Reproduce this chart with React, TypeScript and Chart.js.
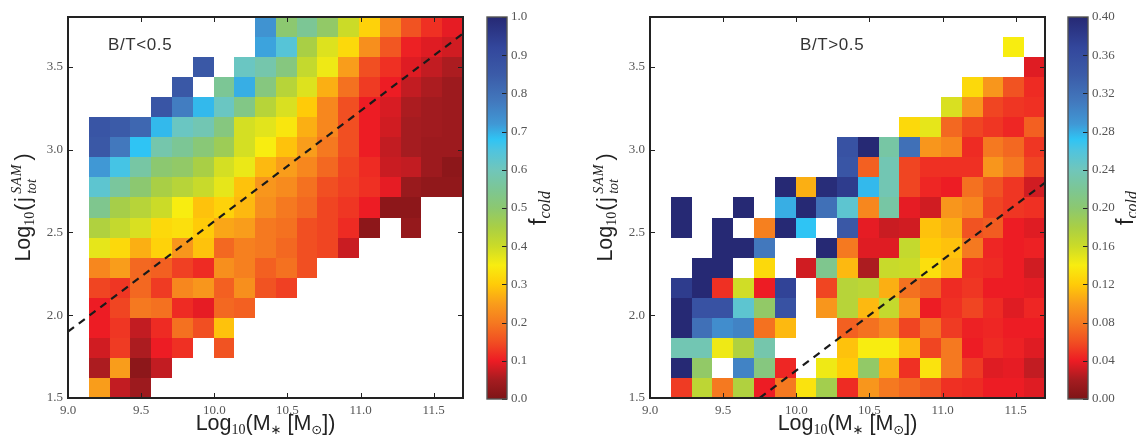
import React, { useEffect, useRef } from "react";
import { Chart, registerables } from "chart.js";

Chart.register(...registerables);

const _ = null;

// Rows run from the top of the plot (highest j bin) to the bottom. Columns start at the second mass bin.
const coldFractionLowBT = [
  [_, _, _, _, _, _, _, _, 0.73, 0.5, 0.55, 0.49, 0.4, 0.31, 0.22, 0.155, 0.12, 0.095],
  [_, _, _, _, _, _, _, _, 0.71, 0.64, 0.45, 0.38, 0.32, 0.23, 0.16, 0.105, 0.09, 0.08],
  [_, _, _, _, _, 0.86, _, 0.61, 0.58, 0.52, 0.41, 0.36, 0.25, 0.15, 0.12, 0.09, 0.07, 0.055],
  [_, _, _, _, 0.86, _, 0.55, 0.7, 0.52, 0.43, 0.38, 0.27, 0.19, 0.13, 0.1, 0.07, 0.055, 0.04],
  [_, _, _, 0.87, 0.77, 0.69, 0.61, 0.53, 0.43, 0.385, 0.3, 0.22, 0.15, 0.1, 0.085, 0.055, 0.045, 0.04],
  [0.87, 0.85, 0.82, 0.69, 0.61, 0.59, 0.52, 0.39, 0.375, 0.34, 0.27, 0.22, 0.15, 0.1, 0.08, 0.05, 0.045, 0.04],
  [0.86, 0.78, 0.68, 0.58, 0.55, 0.51, 0.47, 0.39, 0.35, 0.29, 0.25, 0.2, 0.15, 0.1, 0.07, 0.05, 0.04, 0.04],
  [0.72, 0.66, 0.57, 0.5, 0.49, 0.45, 0.39, 0.365, 0.28, 0.25, 0.22, 0.18, 0.14, 0.115, 0.075, 0.07, 0.04, 0.02],
  [0.63, 0.56, 0.5, 0.45, 0.43, 0.405, 0.37, 0.29, 0.24, 0.225, 0.19, 0.15, 0.135, 0.12, 0.095, 0.035, 0.025, 0.025],
  [0.54, 0.455, 0.43, 0.4, 0.35, 0.29, 0.31, 0.28, 0.23, 0.2, 0.18, 0.14, 0.125, 0.1, 0.02, 0.02, _, _],
  [0.44, 0.41, 0.385, 0.32, 0.33, 0.3, 0.26, 0.25, 0.2, 0.19, 0.15, 0.14, 0.115, 0.02, _, 0.03, _, _],
  [0.37, 0.32, 0.27, 0.31, 0.24, 0.29, 0.18, 0.21, 0.2, 0.18, 0.15, 0.14, 0.075, _, _, _, _, _],
  [0.22, 0.25, 0.18, 0.17, 0.135, 0.115, 0.23, 0.21, 0.17, 0.19, 0.15, _, _, _, _, _, _, _],
  [0.14, 0.125, 0.18, 0.13, 0.22, 0.24, 0.17, 0.23, 0.155, 0.135, _, _, _, _, _, _, _, _],
  [0.1, 0.14, 0.2, 0.19, 0.115, 0.095, 0.18, 0.17, _, _, _, _, _, _, _, _, _, _],
  [0.1, 0.125, 0.07, 0.115, 0.19, 0.15, 0.29, _, _, _, _, _, _, _, _, _, _, _],
  [0.08, 0.13, 0.055, 0.1, 0.12, _, 0.155, _, _, _, _, _, _, _, _, _, _, _],
  [0.055, 0.25, 0.02, 0.07, _, _, _, _, _, _, _, _, _, _, _, _, _, _],
  [0.25, 0.07, 0.04, _, _, _, _, _, _, _, _, _, _, _, _, _, _, _],
];

const coldFractionHighBT = [
  [_, _, _, _, _, _, _, _, _, _, _, _, _, _, _, _, _, _],
  [_, _, _, _, _, _, _, _, _, _, _, _, _, _, _, _, 0.14, _],
  [_, _, _, _, _, _, _, _, _, _, _, _, _, _, _, _, _, 0.036],
  [_, _, _, _, _, _, _, _, _, _, _, _, _, _, 0.128, 0.096, 0.062, 0.046],
  [_, _, _, _, _, _, _, _, _, _, _, _, _, 0.154, 0.096, 0.056, 0.05, 0.048],
  [_, _, _, _, _, _, _, _, _, _, _, 0.128, 0.148, 0.072, 0.056, 0.05, 0.044, 0.068],
  [_, _, _, _, _, _, _, _, 0.352, 0.4, 0.228, 0.32, 0.096, 0.088, 0.046, 0.08, 0.072, 0.05],
  [_, _, _, _, _, _, _, _, 0.348, 0.068, 0.236, 0.056, 0.048, 0.048, 0.048, 0.096, 0.08, 0.056],
  [_, _, _, _, _, 0.4, 0.108, 0.396, 0.38, 0.276, 0.236, 0.056, 0.044, 0.04, 0.076, 0.062, 0.05, 0.032],
  [0.4, _, _, 0.4, _, 0.28, 0.4, 0.32, 0.252, 0.088, 0.228, 0.038, 0.032, 0.096, 0.088, 0.056, 0.05, 0.048],
  [0.4, _, 0.4, _, 0.084, 0.4, 0.272, _, 0.344, 0.038, 0.03, 0.032, 0.116, 0.108, 0.062, 0.066, 0.04, 0.036],
  [_, _, 0.4, 0.4, 0.312, _, _, 0.4, 0.08, 0.036, 0.036, 0.164, 0.12, 0.116, 0.08, 0.044, 0.04, 0.042],
  [_, 0.4, 0.4, _, 0.128, _, 0.032, 0.216, 0.112, 0.022, 0.162, 0.16, 0.132, 0.112, 0.048, 0.046, 0.04, 0.032],
  [0.38, 0.4, 0.048, 0.158, 0.04, 0.372, _, 0.056, 0.172, 0.168, 0.108, 0.076, 0.066, 0.046, 0.05, 0.04, 0.04, 0.038],
  [0.4, 0.352, 0.352, 0.252, 0.196, 0.352, _, 0.096, 0.172, 0.112, 0.164, 0.096, 0.04, 0.048, 0.056, 0.046, 0.036, 0.044],
  [0.4, 0.32, 0.296, 0.304, 0.076, 0.112, _, _, 0.068, 0.076, 0.088, 0.056, 0.076, 0.052, 0.042, 0.044, 0.04, 0.04],
  [0.236, 0.236, 0.144, 0.176, 0.232, _, _, _, 0.116, 0.14, 0.14, 0.112, 0.056, 0.08, 0.04, 0.046, 0.042, 0.036],
  [0.4, 0.196, _, 0.304, 0.208, 0.044, _, 0.144, 0.12, 0.196, 0.108, 0.048, 0.134, 0.08, 0.052, 0.036, 0.038, 0.028],
  [0.052, 0.168, 0.08, 0.176, 0.04, 0.08, 0.134, 0.184, 0.046, 0.096, 0.08, 0.072, 0.062, 0.048, 0.046, 0.04, 0.04, 0.036],
];

const fitLineLowX = [9.0, 11.7];
const fitLineLowY = [1.9, 3.7];
const fitLineHighX = [9.75, 11.7];
const fitLineHighY = [1.5, 2.8];

const colorStopValues = [0, 0.05, 0.1, 0.15, 0.2, 0.25, 0.3, 0.35, 0.4, 0.45, 0.5, 0.55, 0.6, 0.65, 0.68, 0.72, 0.78, 0.85, 0.92, 1];
const colorStopColors = [
  "#7d1416", "#a51c20", "#ed1c24", "#f14f22", "#f57920", "#f99d1b", "#ffcb08", "#f8ed10", "#cbdb28", "#a9cf45",
  "#8cc870", "#7cc695", "#70c6bb", "#50c4de", "#2fc4f4", "#4098d5", "#4278bd", "#3b5ba8", "#33479c", "#262974",
];

const X_MIN = 9.0, X_MAX = 11.7, Y_MIN = 1.5, Y_MAX = 3.8, BINS = 19;
const SANS = '"Liberation Sans"', SERIF = '"Liberation Serif"';
const INK = "#222222", TICK_TEXT = "#555555";

function hexToRgb(h: string) {
  return [1, 3, 5].map((i) => parseInt(h.slice(i, i + 2), 16));
}
function colorFor(t: number) {
  const v = Math.max(0, Math.min(1, t));
  let i = 0;
  while (i < colorStopValues.length - 2 && v > colorStopValues[i + 1]) i++;
  const f = (v - colorStopValues[i]) / (colorStopValues[i + 1] - colorStopValues[i]);
  const a = hexToRgb(colorStopColors[i]), b = hexToRgb(colorStopColors[i + 1]);
  return `rgb(${a.map((c, k) => Math.round(c + (b[k] - c) * f)).join(",")})`;
}

type Run = { t: string; font: string; dy?: number; noAdvance?: boolean; gap?: number; spacing?: number };

function drawRuns(ctx: any, runs: Run[], cx: number, cy: number, rotated: boolean) {
  ctx.save();
  ctx.translate(cx, cy);
  if (rotated) ctx.rotate(-Math.PI / 2);
  ctx.textBaseline = "alphabetic";
  ctx.textAlign = "left";
  const setFont = (r: Run) => {
    ctx.font = r.font;
    ctx.letterSpacing = `${r.spacing || 0}px`;
  };
  let total = 0;
  for (const r of runs) {
    setFont(r);
    total += r.gap || 0;
    if (!r.noAdvance) total += ctx.measureText(r.t).width;
  }
  let x = -total / 2;
  for (const r of runs) {
    setFont(r);
    x += r.gap || 0;
    ctx.fillStyle = INK;
    ctx.fillText(r.t, x, r.dy || 0);
    if (!r.noAdvance) x += ctx.measureText(r.t).width;
  }
  ctx.restore();
}

const xLabelRuns: Run[] = [
  { t: "Log", font: `21.5px ${SANS}` },
  { t: "10", font: `14px ${SERIF}`, dy: 4 },
  { t: "(M", font: `21.5px ${SANS}` },
  { t: "∗", font: `13px "DejaVu Sans"`, dy: 4 },
  { t: " [M", font: `21.5px ${SANS}` },
  { t: "⊙", font: `13px "DejaVu Sans"`, dy: 4 },
  { t: "])", font: `21.5px ${SANS}` },
];
const yLabelRuns: Run[] = [
  { t: "Log", font: `21.5px ${SANS}` },
  { t: "10", font: `14px ${SERIF}`, dy: 4 },
  { t: "(j", font: `21.5px ${SANS}`, gap: 1, spacing: 1.5 },
  { t: "tot", font: `italic 14px ${SERIF}`, dy: 6, noAdvance: true, gap: 2 },
  { t: "SAM", font: `italic 14px ${SERIF}`, dy: -9, spacing: 1 },
  { t: ")", font: `21.5px ${SANS}`, gap: 3 },
];
const cbarLabelRuns: Run[] = [
  { t: "f", font: `23px ${SANS}` },
  { t: "cold", font: `italic 16px ${SERIF}`, dy: 3.5 },
];

function buildCells(rows: (number | null)[][]) {
  const cells: { x: number; y: number; v: number }[] = [];
  rows.forEach((row, r) =>
    row.forEach((v, c) => {
      if (v !== null) cells.push({ x: c + 1, y: rows.length - 1 - r, v });
    })
  );
  return cells;
}

function heatmap(
  canvas: HTMLCanvasElement,
  rows: (number | null)[][],
  lineX: number[],
  lineY: number[],
  vmax: number,
  panelText: string,
  panelTextX: number,
  paddingRight: number
) {
  const cells = buildCells(rows);
  const plugin = {
    id: "cells",
    beforeDatasetsDraw(chart: any) {
      const { ctx, scales } = chart;
      const sx = scales.x, sy = scales.y;
      const dx = (X_MAX - X_MIN) / BINS, dy = (Y_MAX - Y_MIN) / BINS;
      for (const p of cells) {
        const l = Math.round(sx.getPixelForValue(X_MIN + p.x * dx));
        const r = Math.round(sx.getPixelForValue(X_MIN + (p.x + 1) * dx));
        const b = Math.round(sy.getPixelForValue(Y_MIN + p.y * dy));
        const t = Math.round(sy.getPixelForValue(Y_MIN + (p.y + 1) * dy));
        ctx.fillStyle = colorFor(p.v / vmax);
        ctx.fillRect(l, t, r - l, b - t);
      }
    },
    afterDraw(chart: any) {
      const { ctx, chartArea: a, scales } = chart;
      ctx.save();
      ctx.strokeStyle = INK;
      ctx.lineWidth = 1;
      ctx.beginPath();
      for (const tk of scales.x.ticks) {
        const p = Math.round(scales.x.getPixelForValue(tk.value)) + 0.5;
        ctx.moveTo(p, a.top);
        ctx.lineTo(p, a.top + 5);
        ctx.moveTo(p, a.bottom);
        ctx.lineTo(p, a.bottom - 5);
      }
      for (const tk of scales.y.ticks) {
        const p = Math.round(scales.y.getPixelForValue(tk.value)) + 0.5;
        ctx.moveTo(a.left, p);
        ctx.lineTo(a.left + 5, p);
        ctx.moveTo(a.right, p);
        ctx.lineTo(a.right - 5, p);
      }
      ctx.stroke();
      ctx.lineWidth = 2;
      ctx.strokeRect(a.left, a.top, a.right - a.left, a.bottom - a.top);
      ctx.restore();
      ctx.save();
      ctx.font = `17px ${SANS}`;
      (ctx as any).letterSpacing = "0.6px";
      ctx.fillStyle = "#333333";
      ctx.textBaseline = "alphabetic";
      ctx.textAlign = "left";
      ctx.fillText(panelText, panelTextX, 50);
      ctx.restore();
      drawRuns(ctx, xLabelRuns, (a.left + a.right) / 2, 430, false);
      drawRuns(ctx, yLabelRuns, 30, (a.top + a.bottom) / 2, true);
    },
  };
  return new Chart(canvas, {
    type: "scatter",
    data: {
      datasets: [
        { label: "cells", data: cells as any, pointRadius: 0, pointHoverRadius: 0 },
        {
          label: "fit",
          data: lineX.map((x, i) => ({ x, y: lineY[i] })),
          showLine: true,
          pointRadius: 0,
          borderColor: "#1a1a1a",
          borderWidth: 2.2,
          borderDash: [7.5, 6],
        },
      ],
    },
    plugins: [plugin],
    options: {
      animation: false,
      responsive: false,
      events: [],
      layout: { padding: { top: 17, right: paddingRight, left: 0, bottom: 0 } },
      plugins: { legend: { display: false }, tooltip: { enabled: false } },
      scales: {
        x: {
          type: "linear",
          min: X_MIN,
          max: X_MAX,
          grid: { display: false, drawTicks: false },
          border: { display: false },
          afterFit(s: any) {
            s.height = 41;
          },
          ticks: {
            stepSize: 0.5,
            includeBounds: false,
            maxRotation: 0,
            autoSkip: false,
            padding: 5,
            color: TICK_TEXT,
            font: { family: "Liberation Serif", size: 13 },
            callback: (v: any) => Number(v).toFixed(1),
          },
        },
        y: {
          type: "linear",
          min: Y_MIN,
          max: Y_MAX,
          grid: { display: false, drawTicks: false },
          border: { display: false },
          afterFit(s: any) {
            s.width = 68;
          },
          ticks: {
            stepSize: 0.5,
            includeBounds: false,
            autoSkip: false,
            padding: 5,
            color: TICK_TEXT,
            font: { family: "Liberation Serif", size: 13 },
            callback: (v: any) => Number(v).toFixed(1),
          },
        },
      },
    } as any,
  });
}

function colorbar(
  canvas: HTMLCanvasElement,
  vmax: number,
  step: number,
  digits: number,
  paddingLeft: number,
  axisWidth: number,
  labelX: number
) {
  const plugin = {
    id: "bar",
    beforeDatasetsDraw(chart: any) {
      const { ctx, chartArea: a, scales } = chart;
      const g = ctx.createLinearGradient(0, scales.y.getPixelForValue(0), 0, scales.y.getPixelForValue(vmax));
      colorStopValues.forEach((v, i) => g.addColorStop(v, colorStopColors[i]));
      ctx.fillStyle = g;
      ctx.fillRect(a.left, a.top, a.right - a.left, a.bottom - a.top);
    },
    afterDraw(chart: any) {
      const { ctx, chartArea: a, scales } = chart;
      ctx.save();
      ctx.strokeStyle = INK;
      ctx.lineWidth = 1;
      ctx.beginPath();
      for (const tk of scales.y.ticks) {
        const p = Math.round(scales.y.getPixelForValue(tk.value)) + 0.5;
        ctx.moveTo(a.right, p);
        ctx.lineTo(a.right - 5, p);
      }
      ctx.stroke();
      ctx.strokeStyle = "#555555";
      ctx.lineWidth = 1.4;
      ctx.strokeRect(a.left, a.top, a.right - a.left, a.bottom - a.top);
      ctx.restore();
      drawRuns(ctx, cbarLabelRuns, labelX, (a.top + a.bottom) / 2, true);
    },
  };
  return new Chart(canvas, {
    type: "scatter",
    data: { datasets: [{ label: "f_cold", data: [], pointRadius: 0 }] },
    plugins: [plugin],
    options: {
      animation: false,
      responsive: false,
      events: [],
      layout: { padding: { top: 17, bottom: 40, left: paddingLeft, right: 0 } },
      plugins: { legend: { display: false }, tooltip: { enabled: false } },
      scales: {
        x: { display: false, min: 0, max: 1 },
        y: {
          position: "right",
          type: "linear",
          min: 0,
          max: vmax,
          grid: { display: false, drawTicks: false },
          border: { display: false },
          afterFit(s: any) {
            s.width = axisWidth;
          },
          ticks: {
            stepSize: step,
            autoSkip: false,
            padding: 4,
            color: TICK_TEXT,
            font: { family: "Liberation Serif", size: 13 },
            callback: (v: any) => Number(v).toFixed(digits),
          },
        },
      },
    } as any,
  });
}

export default function App() {
  const a = useRef<HTMLCanvasElement>(null);
  const b = useRef<HTMLCanvasElement>(null);
  const c = useRef<HTMLCanvasElement>(null);
  const d = useRef<HTMLCanvasElement>(null);
  useEffect(() => {
    document.body.style.margin = "0";
    document.body.style.background = "#ffffff";
    const charts = [
      heatmap(a.current!, coldFractionLowBT, fitLineLowX, fitLineLowY, 1, "B/T<0.5", 108, 17),
      colorbar(b.current!, 1, 0.1, 1, 7, 73, 66),
      heatmap(c.current!, coldFractionHighBT, fitLineHighX, fitLineHighY, 0.4, "B/T>0.5", 218, 15),
      colorbar(d.current!, 0.4, 0.04, 2, 8, 48, 73),
    ];
    return () => charts.forEach((ch) => ch.destroy());
  }, []);
  const st = (left: number): React.CSSProperties => ({ position: "absolute", left, top: 0, display: "block" });
  return (
    <div style={{ position: "absolute", left: 0, top: 0, width: 1136, height: 439, overflow: "hidden", background: "#fff" }}>
      <canvas ref={a} width={480} height={439} style={st(0)} />
      <canvas ref={b} width={100} height={439} style={st(480)} />
      <canvas ref={c} width={478} height={439} style={st(582)} />
      <canvas ref={d} width={76} height={439} style={st(1060)} />
    </div>
  );
}
